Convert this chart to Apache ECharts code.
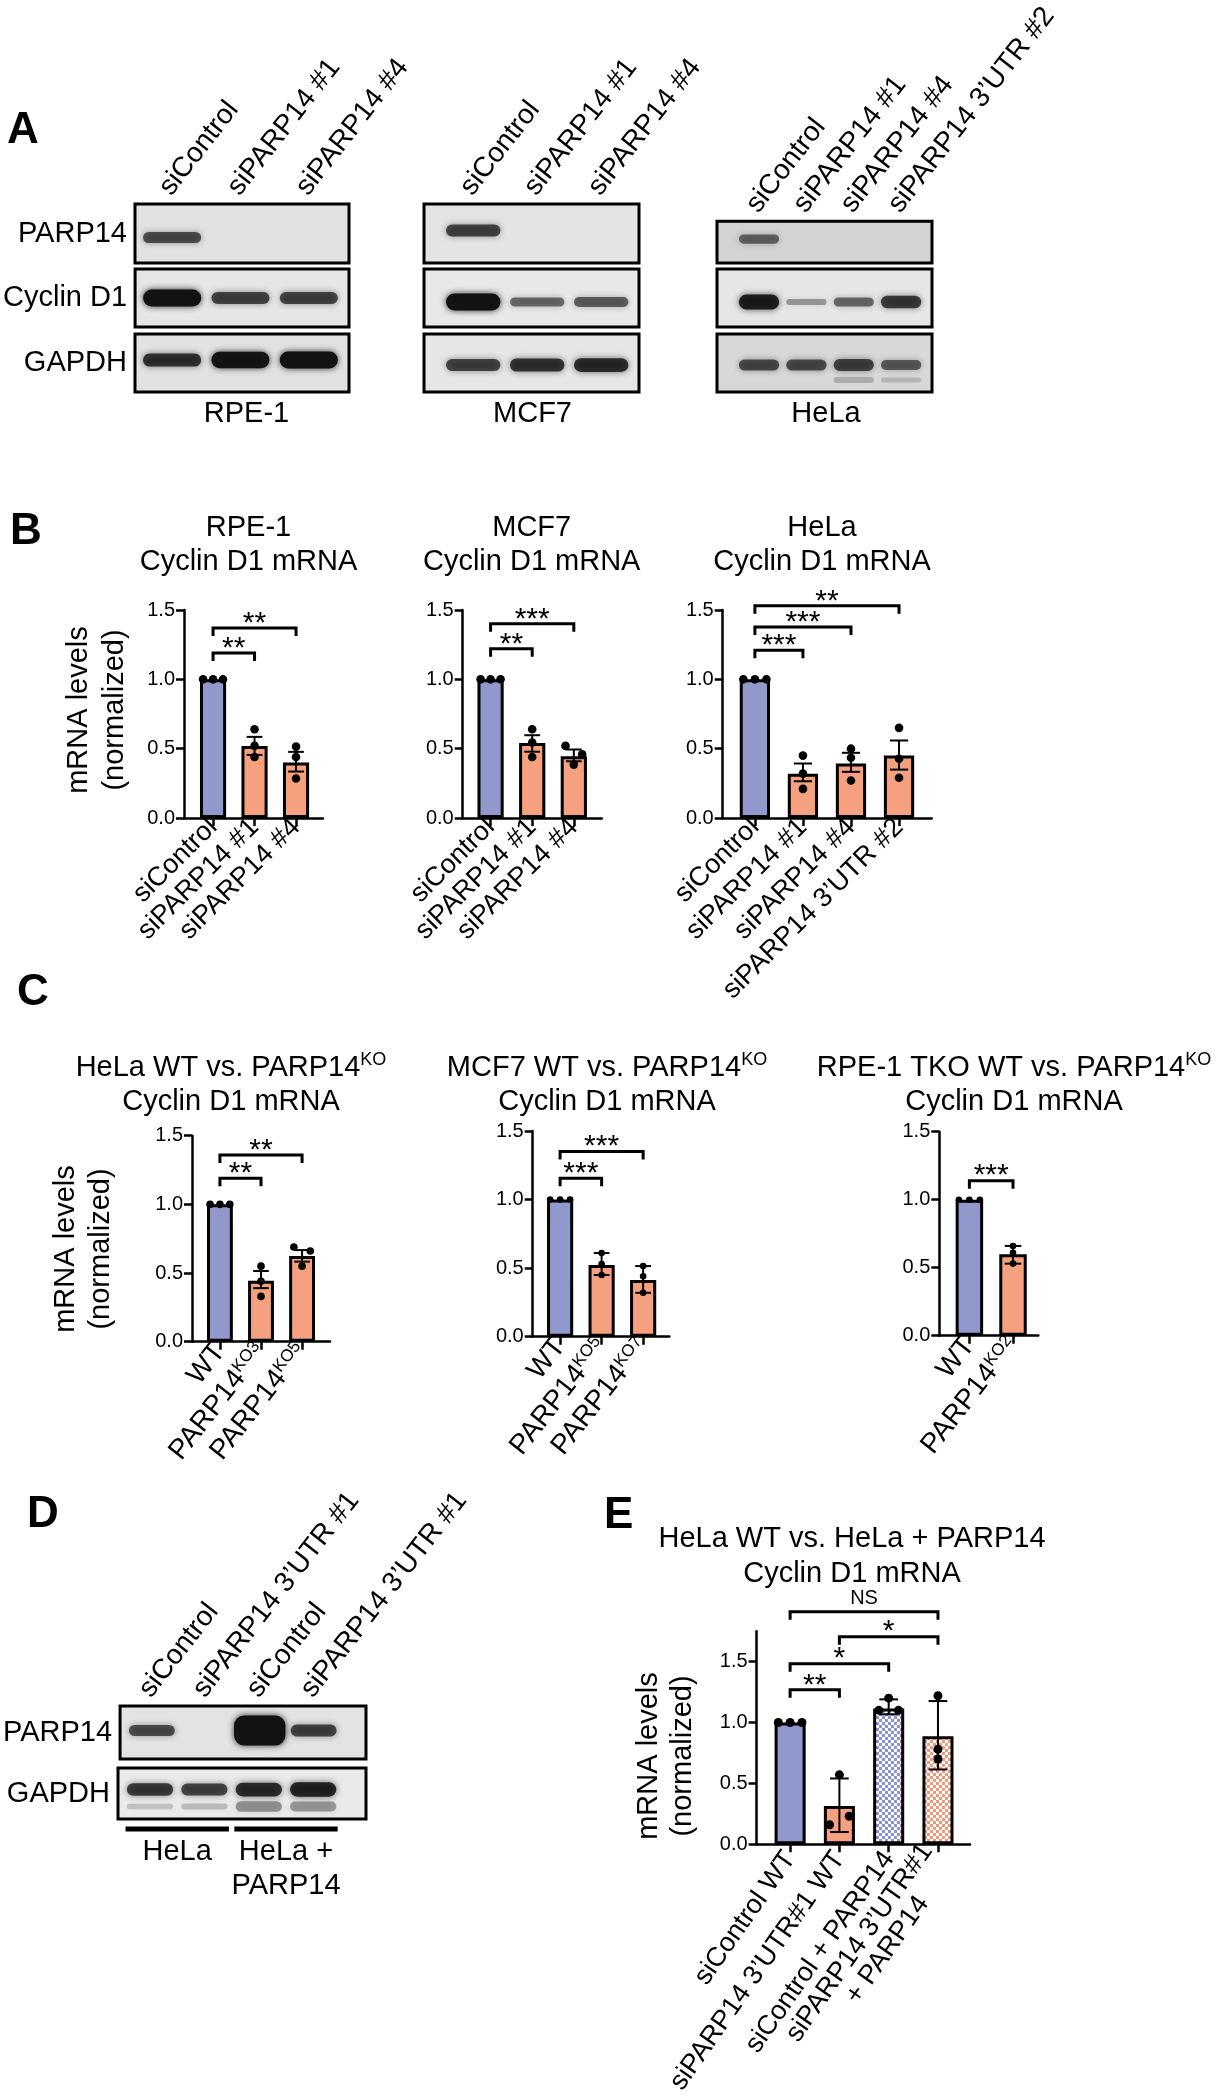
<!DOCTYPE html>
<html>
<head>
<meta charset="utf-8">
<script src="https://cdn.jsdelivr.net/npm/echarts@6/dist/echarts.min.js"></script>
<style>html,body{margin:0;padding:0;background:#fff}#c{width:1216px;height:2100px}</style>
</head>
<body>
<div id="c"></div>
<script>
// ===================== DATA =====================
// Panel A – western blots (relative band intensity)
const blotRowNames = ['PARP14', 'Cyclin D1', 'GAPDH'];
const rpe1Lanes = ['siControl', 'siPARP14 #1', 'siPARP14 #4'];
const rpe1Parp14 = [0.55, 0, 0];
const rpe1CyclinD1 = [1.0, 0.6, 0.6];
const rpe1Gapdh = [0.7, 0.95, 1.0];
const mcf7Lanes = ['siControl', 'siPARP14 #1', 'siPARP14 #4'];
const mcf7Parp14 = [0.6, 0, 0];
const mcf7CyclinD1 = [1.0, 0.4, 0.45];
const mcf7Gapdh = [0.6, 0.7, 0.75];
const helaLanes = ['siControl', 'siPARP14 #1', 'siPARP14 #4', 'siPARP14 3’UTR #2'];
const helaParp14 = [0.4, 0, 0, 0];
const helaCyclinD1 = [0.85, 0.15, 0.4, 0.65];
const helaGapdh = [0.55, 0.55, 0.6, 0.45];
const helaGapdhLower = [0, 0, 0.15, 0.08];

// Panel B – Cyclin D1 mRNA after siRNA
const bRpeCats = ['siControl', 'siPARP14 #1', 'siPARP14 #4'];
const bRpeMeans = [1.0, 0.52, 0.40];
const bRpeDots = [[1, 1, 1], [0.64, 0.52, 0.44], [0.515, 0.44, 0.285]];
const bRpeErrLow = [1, 0.455, 0.335];
const bRpeErrHigh = [1, 0.585, 0.477];
const bRpeSig = [[0, 1, 1.19, '**'], [0, 2, 1.37, '**']];

const bMcfCats = ['siControl', 'siPARP14 #1', 'siPARP14 #4'];
const bMcfMeans = [1.0, 0.54, 0.445];
const bMcfDots = [[1, 1, 1], [0.64, 0.545, 0.44], [0.52, 0.46, 0.385]];
const bMcfErrLow = [1, 0.478, 0.409];
const bMcfErrHigh = [1, 0.597, 0.494];
const bMcfSig = [[0, 1, 1.22, '**'], [0, 2, 1.40, '***']];

const bHelaCats = ['siControl', 'siPARP14 #1', 'siPARP14 #4', 'siPARP14 3’UTR #2'];
const bHelaMeans = [1.0, 0.32, 0.393, 0.451];
const bHelaDots = [[1, 1, 1], [0.45, 0.32, 0.21], [0.50, 0.435, 0.27], [0.65, 0.427, 0.29]];
const bHelaErrLow = [1, 0.265, 0.333, 0.349];
const bHelaErrHigh = [1, 0.393, 0.47, 0.559];
const bHelaSig = [[0, 1, 1.21, '***'], [0, 2, 1.378, '***'], [0, 3, 1.53, '**']];

// Panel C – WT vs PARP14 KO
const cHelaCats = ['WT', 'PARP14^KO3', 'PARP14^KO5'];
const cHelaMeans = [1.0, 0.444, 0.624];
const cHelaDots = [[1, 1, 1], [0.55, 0.44, 0.33], [0.69, 0.66, 0.55]];
const cHelaErrLow = [1, 0.39, 0.583];
const cHelaErrHigh = [1, 0.515, 0.667];
const cHelaSig = [[0, 1, 1.19, '**'], [0, 2, 1.36, '**']];

const cMcfCats = ['WT', 'PARP14^KO5', 'PARP14^KO7'];
const cMcfMeans = [1.0, 0.523, 0.413];
const cMcfDots = [[1, 1, 1], [0.61, 0.53, 0.45], [0.515, 0.44, 0.32]];
const cMcfErrLow = [1, 0.45, 0.32];
const cMcfErrHigh = [1, 0.61, 0.515];
const cMcfSig = [[0, 1, 1.155, '***'], [0, 2, 1.35, '***']];

const cRpeCats = ['WT', 'PARP14^KO2'];
const cRpeMeans = [1.0, 0.598];
const cRpeDots = [[1, 1, 1], [0.66, 0.61, 0.53]];
const cRpeErrLow = [1, 0.53];
const cRpeErrHigh = [1, 0.66];
const cRpeSig = [[0, 1, 1.14, '***']];

// Panel D – blot
const dLanes = ['siControl', 'siPARP14 3’UTR #1', 'siControl', 'siPARP14 3’UTR #1'];
const dParp14 = [0.55, 0.03, 2.0, 0.6];
const dGapdh = [0.65, 0.6, 0.75, 0.8];
const dGapdhLower = [0.1, 0.15, 0.5, 0.45];
const dGroups = [[0, 1], [2, 3]];
const dGroupNames = ['HeLa', 'HeLa +\nPARP14'];

// Panel E – rescue
const eCats = ['siControl WT', 'siPARP14 3’UTR#1 WT', 'siControl + PARP14', 'siPARP14 3’UTR#1\n+ PARP14      '];
const eMeans = [1.0, 0.314, 1.115, 0.886];
const eDots = [[1, 1, 1], [0.57, 0.16, 0.23], [1.20, 1.10, 1.10], [1.22, 0.78, 0.70]];
const eErrLow = [1, 0.10, 1.067, 0.614];
const eErrHigh = [1, 0.54, 1.19, 1.176];
const eSig = [[0, 1, 1.268, '**'], [0, 2, 1.483, '*'], [1, 3, 1.705, '*'], [0, 3, 1.909, 'NS']];

// ===================== STYLE / LAYOUT =====================
const FONT = '"Liberation Sans", Arial, Helvetica, sans-serif';
const BLUE = '#9098cc', ORANGE = '#f5a07f';
function checker(color) {
  const c = document.createElement('canvas'); c.width = 6; c.height = 6;
  const g = c.getContext('2d');
  g.fillStyle = '#ffffff'; g.fillRect(0, 0, 6, 6);
  g.fillStyle = color; g.fillRect(0, 0, 3, 3); g.fillRect(3, 3, 3, 3);
  return { image: c, repeat: 'repeat' };
}
const FILLS = { blue: BLUE, orange: ORANGE, blueCheck: checker('#8a92d6'), orangeCheck: checker('#f39876') };

const grids = [], xAxes = [], yAxes = [], series = [], texts = [];

function richLabel(s) {
  return s.split('\n').map(line => {
    const k = line.indexOf('^');
    return k < 0 ? '{n|' + line + '}' : '{n|' + line.slice(0, k) + '}{s|' + line.slice(k + 1) + '}';
  }).join('\n');
}

function addBlot(b) {
  const n = b.lanes.length;
  const idx = b.lanes.map((_, i) => i);
  b.rows.forEach((row, r) => {
    const gi = grids.length;
    grids.push({ left: b.left, top: row.top, width: b.width, height: row.height, show: true,
      borderColor: '#000', borderWidth: 3, backgroundColor: row.bg, containLabel: false });
    const xa = { type: 'value', gridIndex: gi, min: -b.padL, max: n - 1 + b.padR,
      position: r === 0 ? 'top' : 'bottom',
      axisLine: { show: false }, axisTick: { show: false }, splitLine: { show: false },
      axisLabel: { show: false } };
    if (r === 0) {
      xa.axisLabel = { show: true, customValues: idx, formatter: v => b.lanes[v], rotate: -52, margin: 12,
        fontSize: 28, fontFamily: FONT, color: '#000' };
    }
    xAxes.push(xa);
    yAxes.push({ type: 'category', gridIndex: gi, data: [row.name],
      axisLine: { show: false }, axisTick: { show: false }, splitLine: { show: false },
      axisLabel: { show: !!b.rowLabels, fontSize: 29, fontFamily: FONT, color: '#000', margin: 8 } });
    const layers = [[row.bands, row.dy || 0, 1]];
    if (row.lower) layers.push([row.lower, row.lowerDy, 0.6]);
    layers.forEach(([vals, dy, fade]) => {
      series.push({ type: 'custom', xAxisIndex: gi, yAxisIndex: gi, silent: true, animation: false, z: 3,
        data: vals.map((v, i) => [i, 0, v]), encode: { x: 0, y: 1 },
        renderItem: (p, api) => {
          const v = api.value(2);
          if (!(v > 0.05)) return null;
          const c = api.coord([api.value(0), 0]);
          const lane = api.size([1, 0])[0];
          const w = lane * 0.85 * (v > 1 ? 1 + 0.12 * (v - 1) : 1);
          const h = 4 + 13 * v;
          const a = Math.min(1, 0.22 + 0.8 * v) * fade;
          return { type: 'rect',
            shape: { x: c[0] + b.shift - w / 2, y: c[1] + dy - h / 2, width: w, height: h, r: Math.min(h / 2, 10) },
            style: { fill: 'rgba(18,18,18,' + a + ')', shadowBlur: 6, shadowColor: 'rgba(18,18,18,' + (a * 0.9) + ')' } };
        } });
    });
    if (row.groups) {
      series.push({ type: 'custom', xAxisIndex: gi, yAxisIndex: gi, silent: true, animation: false, z: 3,
        data: row.groups.map(g => [g[0], g[1], 0]), encode: { x: [0, 1], y: 2 },
        renderItem: (p, api) => {
          const a = api.coord([api.value(0), 0]), bb = api.coord([api.value(1), 0]);
          const lane = api.size([1, 0])[0];
          const y = p.coordSys.y + p.coordSys.height + 10;
          const x1 = a[0] + b.shift - 0.45 * lane, x2 = bb[0] + b.shift + 0.45 * lane;
          return { type: 'group', children: [
            { type: 'rect', shape: { x: x1, y: y - 2.5, width: x2 - x1, height: 5 }, style: { fill: '#000' } },
            { type: 'text', x: (x1 + x2) / 2, y: y + 6,
              style: { text: row.groupNames[p.dataIndex], fontSize: 29, fontFamily: FONT, fill: '#000',
                align: 'center', verticalAlign: 'top', lineHeight: 34 } }
          ] };
        } });
    }
  });
}

function jitter(vals, ppv, r, unit) {
  const n = vals.length, offs = new Array(n).fill(0), used = new Array(n).fill(false);
  for (let i = 0; i < n; i++) {
    if (used[i]) continue;
    const grp = [i]; used[i] = true;
    for (let j = i + 1; j < n; j++) {
      if (!used[j] && Math.abs(vals[j] - vals[i]) * ppv < 2 * r) { grp.push(j); used[j] = true; }
    }
    if (grp.length === 2) { offs[grp[0]] = -0.2 * unit; offs[grp[1]] = 0.2 * unit; }
    else if (grp.length >= 3) grp.forEach((g, k) => { offs[g] = (k - (grp.length - 1) / 2) * 0.24 * unit; });
  }
  return offs;
}

function addBarChart(L, D) {
  const gi = grids.length;
  const n = D.cats.length;
  const idx = D.cats.map((_, i) => i);
  const unit = L.width / (n - 1 + L.padL + L.padR);
  const ppv = L.height / L.yMax;
  const yTicks = [0, 0.5, 1, 1.5];
  grids.push({ left: L.left, top: L.top, width: L.width, height: L.height, containLabel: false });
  xAxes.push({ type: 'value', gridIndex: gi, min: -L.padL, max: n - 1 + L.padR,
    axisLine: { show: true, onZero: false, lineStyle: { color: '#000', width: 2.5 } },
    axisTick: { show: true, customValues: idx, length: 8, lineStyle: { color: '#000', width: 2.5 } },
    axisLabel: { show: true, customValues: idx, formatter: v => richLabel(D.cats[v]), rotate: L.rot, margin: L.margin,
      color: '#000', fontFamily: FONT, fontSize: L.lab,
      rich: { n: { fontSize: L.lab, fontFamily: FONT, color: '#000' },
              s: { fontSize: Math.round(L.lab * 0.62), fontFamily: FONT, color: '#000', verticalAlign: 'top' } } },
    splitLine: { show: false } });
  yAxes.push({ type: 'value', gridIndex: gi, min: 0, max: L.yMax, interval: 0.5,
    axisLine: { show: true, onZero: false, lineStyle: { color: '#000', width: 2.5 } },
    axisTick: { show: true, customValues: yTicks, length: 8, lineStyle: { color: '#000', width: 2.5 } },
    axisLabel: { show: true, customValues: yTicks, formatter: v => v.toFixed(1), fontSize: 20, fontFamily: FONT,
      color: '#000', margin: 9 },
    splitLine: { show: false } });
  const fills = L.fills || D.cats.map((_, i) => i === 0 ? 'blue' : 'orange');
  // bars
  series.push({ type: 'bar', xAxisIndex: gi, yAxisIndex: gi, silent: true, animation: false, z: 2,
    barWidth: unit * 0.63,
    data: D.means.map((m, i) => ({ value: [i, m], itemStyle: { color: FILLS[fills[i]] } })),
    itemStyle: { borderColor: '#000', borderWidth: 3 } });
  // error bars
  series.push({ type: 'custom', xAxisIndex: gi, yAxisIndex: gi, silent: true, animation: false, z: 4,
    data: idx.map(i => [i, D.lo[i], D.hi[i]]), encode: { x: 0, y: [1, 2] },
    renderItem: (p, api) => {
      const lo = api.value(1), hi = api.value(2);
      if (hi - lo < 1e-6) return null;
      const a = api.coord([api.value(0), lo]), b = api.coord([api.value(0), hi]);
      const cw = unit * 0.19;
      const st = { stroke: '#000', lineWidth: 2 };
      return { type: 'group', children: [
        { type: 'line', shape: { x1: a[0], y1: a[1], x2: b[0], y2: b[1] }, style: st },
        { type: 'line', shape: { x1: a[0] - cw, y1: a[1], x2: a[0] + cw, y2: a[1] }, style: st },
        { type: 'line', shape: { x1: b[0] - cw, y1: b[1], x2: b[0] + cw, y2: b[1] }, style: st }
      ] };
    } });
  // individual points
  const dotData = [];
  D.dots.forEach((vals, i) => {
    const offs = jitter(vals, ppv, L.dotR, unit);
    vals.forEach((v, k) => dotData.push([i, v, offs[k]]));
  });
  series.push({ type: 'custom', xAxisIndex: gi, yAxisIndex: gi, silent: true, animation: false, z: 5,
    data: dotData, encode: { x: 0, y: 1 },
    renderItem: (p, api) => {
      const c = api.coord([api.value(0), api.value(1)]);
      return { type: 'circle', shape: { cx: c[0] + api.value(2), cy: c[1], r: L.dotR }, style: { fill: '#000' } };
    } });
  // significance brackets
  series.push({ type: 'custom', xAxisIndex: gi, yAxisIndex: gi, silent: true, animation: false, z: 6,
    data: D.sig.map(s => [s[0], s[1], s[2]]), encode: { x: [0, 1], y: 2 },
    renderItem: (p, api) => {
      const t = D.sig[p.dataIndex][3];
      const a = api.coord([api.value(0), api.value(2)]), b = api.coord([api.value(1), api.value(2)]);
      const ns = t === 'NS';
      return { type: 'group', children: [
        { type: 'polyline', shape: { points: [[a[0], a[1] + 8], [a[0], a[1]], [b[0], b[1]], [b[0], b[1] + 8]] },
          style: { stroke: '#000', fill: 'none', lineWidth: 3 } },
        { type: 'text', x: (a[0] + b[0]) / 2, y: a[1] - (ns ? 13 : 4.5),
          style: { text: t, fontSize: ns ? 20 : 30, fontFamily: FONT, fill: '#000', align: 'center', verticalAlign: 'middle' } }
      ] };
    } });
}

function txt(x, y, text, o) {
  o = o || {};
  const st = { text: text, fill: '#000', fontSize: o.size || 29, fontFamily: FONT, fontWeight: o.bold ? 'bold' : 'normal',
    align: o.align || 'center', verticalAlign: 'middle' };
  if (o.lh) st.lineHeight = o.lh;
  if (o.rich) st.rich = o.rich;
  return { type: 'text', x: x, y: y, rotation: o.rot || 0, silent: true, style: st };
}

// ----- Panel A blots -----
addBlot({ left: 135, width: 214, lanes: rpe1Lanes, padL: 0.44, padR: 0.69, shift: 7, rowLabels: true, rows: [
  { name: blotRowNames[0], top: 204, height: 59, bg: '#e2e2e2', bands: rpe1Parp14, dy: 4 },
  { name: blotRowNames[1], top: 269, height: 58, bg: '#e6e6e6', bands: rpe1CyclinD1 },
  { name: blotRowNames[2], top: 334, height: 58, bg: '#e2e2e2', bands: rpe1Gapdh, dy: -3 }] });
addBlot({ left: 424, width: 215, lanes: mcf7Lanes, padL: 0.66, padR: 0.70, shift: 7, rows: [
  { name: blotRowNames[0], top: 204, height: 59, bg: '#e4e4e4', bands: mcf7Parp14, dy: -3 },
  { name: blotRowNames[1], top: 269, height: 58, bg: '#e8e8e8', bands: mcf7CyclinD1, dy: 4 },
  { name: blotRowNames[2], top: 334, height: 58, bg: '#e6e6e6', bands: mcf7Gapdh, dy: 2 }] });
addBlot({ left: 717, width: 215, lanes: helaLanes, padL: 0.74, padR: 0.80, shift: 7, rows: [
  { name: blotRowNames[0], top: 204, height: 59, bg: '#d3d3d3', bands: helaParp14, dy: -3 },
  { name: blotRowNames[1], top: 269, height: 58, bg: '#e6e6e6', bands: helaCyclinD1, dy: 4 },
  { name: blotRowNames[2], top: 334, height: 58, bg: '#d8d8d8', bands: helaGapdh, dy: 2, lower: helaGapdhLower, lowerDy: 17 }] });

// ----- Panel B -----
addBarChart({ left: 184, top: 610, width: 139, height: 208, yMax: 1.5, padL: 0.70, padR: 0.65, rot: 45, lab: 27, margin: 5, dotR: 4.3 },
  { cats: bRpeCats, means: bRpeMeans, dots: bRpeDots, lo: bRpeErrLow, hi: bRpeErrHigh, sig: bRpeSig });
addBarChart({ left: 462.7, top: 610, width: 139, height: 208, yMax: 1.5, padL: 0.67, padR: 0.67, rot: 45, lab: 27, margin: 5, dotR: 4.3 },
  { cats: bMcfCats, means: bMcfMeans, dots: bMcfDots, lo: bMcfErrLow, hi: bMcfErrHigh, sig: bMcfSig });
addBarChart({ left: 722.7, top: 610, width: 209, height: 208, yMax: 1.5, padL: 0.67, padR: 0.68, rot: 45, lab: 27, margin: 5, dotR: 4.3 },
  { cats: bHelaCats, means: bHelaMeans, dots: bHelaDots, lo: bHelaErrLow, hi: bHelaErrHigh, sig: bHelaSig });

// ----- Panel C -----
addBarChart({ left: 192, top: 1135.7, width: 138, height: 206, yMax: 1.5, padL: 0.68, padR: 0.68, rot: 52, lab: 28, margin: 5, dotR: 3.8 },
  { cats: cHelaCats, means: cHelaMeans, dots: cHelaDots, lo: cHelaErrLow, hi: cHelaErrHigh, sig: cHelaSig });
addBarChart({ left: 532.7, top: 1131, width: 136.6, height: 205.7, yMax: 1.5, padL: 0.66, padR: 0.63, rot: 52, lab: 28, margin: 5, dotR: 3.3 },
  { cats: cMcfCats, means: cMcfMeans, dots: cMcfDots, lo: cMcfErrLow, hi: cMcfErrHigh, sig: cMcfSig });
addBarChart({ left: 939.3, top: 1131.7, width: 99, height: 204, yMax: 1.5, padL: 0.69, padR: 0.58, rot: 52, lab: 28, margin: 5, dotR: 3.3 },
  { cats: cRpeCats, means: cRpeMeans, dots: cRpeDots, lo: cRpeErrLow, hi: cRpeErrHigh, sig: cRpeSig });

// ----- Panel D blot -----
addBlot({ left: 118, width: 248, lanes: dLanes, padL: 0.46, padR: 1.10, shift: 7, rowLabels: true, rows: [
  { name: 'PARP14', top: 1706, height: 53, bg: '#e3e3e3', bands: dParp14, dy: -2 },
  { name: 'GAPDH', top: 1768, height: 51, bg: '#eaeaea', bands: dGapdh, dy: -4, lower: dGapdhLower, lowerDy: 13,
    groups: dGroups, groupNames: dGroupNames }] });

// ----- Panel E -----
addBarChart({ left: 756.6, top: 1631.2, width: 213.4, height: 213, yMax: 1.75, padL: 0.68, padR: 0.65, rot: 55, lab: 27, margin: 10, dotR: 4.5,
  fills: ['blue', 'orange', 'blueCheck', 'orangeCheck'] },
  { cats: eCats, means: eMeans, dots: eDots, lo: eErrLow, hi: eErrHigh, sig: eSig });

// ----- texts -----
const letter = { bold: true, size: 44, align: 'left' };
texts.push(txt(7, 131, 'A', letter), txt(10, 532, 'B', letter), txt(17, 992.5, 'C', letter),
  txt(27, 1515, 'D', letter), txt(604, 1515.5, 'E', letter));
texts.push(txt(246.5, 414, 'RPE-1'), txt(532.5, 414, 'MCF7'), txt(826, 414, 'HeLa'));
texts.push(txt(248.5, 545, 'RPE-1\nCyclin D1 mRNA', { lh: 34 }),
  txt(531.7, 545, 'MCF7\nCyclin D1 mRNA', { lh: 34 }),
  txt(822, 545, 'HeLa\nCyclin D1 mRNA', { lh: 34 }));
const supRich = { t: { fontSize: 29, fontFamily: FONT, lineHeight: 34, fill: '#000' },
  s: { fontSize: 18, fontFamily: FONT, fill: '#000', verticalAlign: 'top', lineHeight: 22 } };
texts.push(txt(231, 1085, '{t|HeLa WT vs. PARP14}{s|KO}\n{t|Cyclin D1 mRNA}', { rich: supRich }),
  txt(607, 1085, '{t|MCF7 WT vs. PARP14}{s|KO}\n{t|Cyclin D1 mRNA}', { rich: supRich }),
  txt(1014, 1085, '{t|RPE-1 TKO WT vs. PARP14}{s|KO}\n{t|Cyclin D1 mRNA}', { rich: supRich }));
texts.push(txt(852, 1556, 'HeLa WT vs. HeLa + PARP14\nCyclin D1 mRNA', { lh: 35 }));
texts.push(txt(97, 710, 'mRNA levels\n(normalized)', { rot: Math.PI / 2, lh: 36 }),
  txt(83.5, 1249, 'mRNA levels\n(normalized)', { rot: Math.PI / 2, lh: 35 }),
  txt(666, 1756, 'mRNA levels\n(normalized)', { rot: Math.PI / 2, lh: 34.5 }));

const chart = echarts.init(document.getElementById('c'), null, { renderer: 'canvas', width: 1216, height: 2100 });
chart.setOption({
  animation: false,
  backgroundColor: '#ffffff',
  textStyle: { fontFamily: FONT },
  grid: grids, xAxis: xAxes, yAxis: yAxes, series: series,
  graphic: { elements: texts }
});
</script>
</body>
</html>
